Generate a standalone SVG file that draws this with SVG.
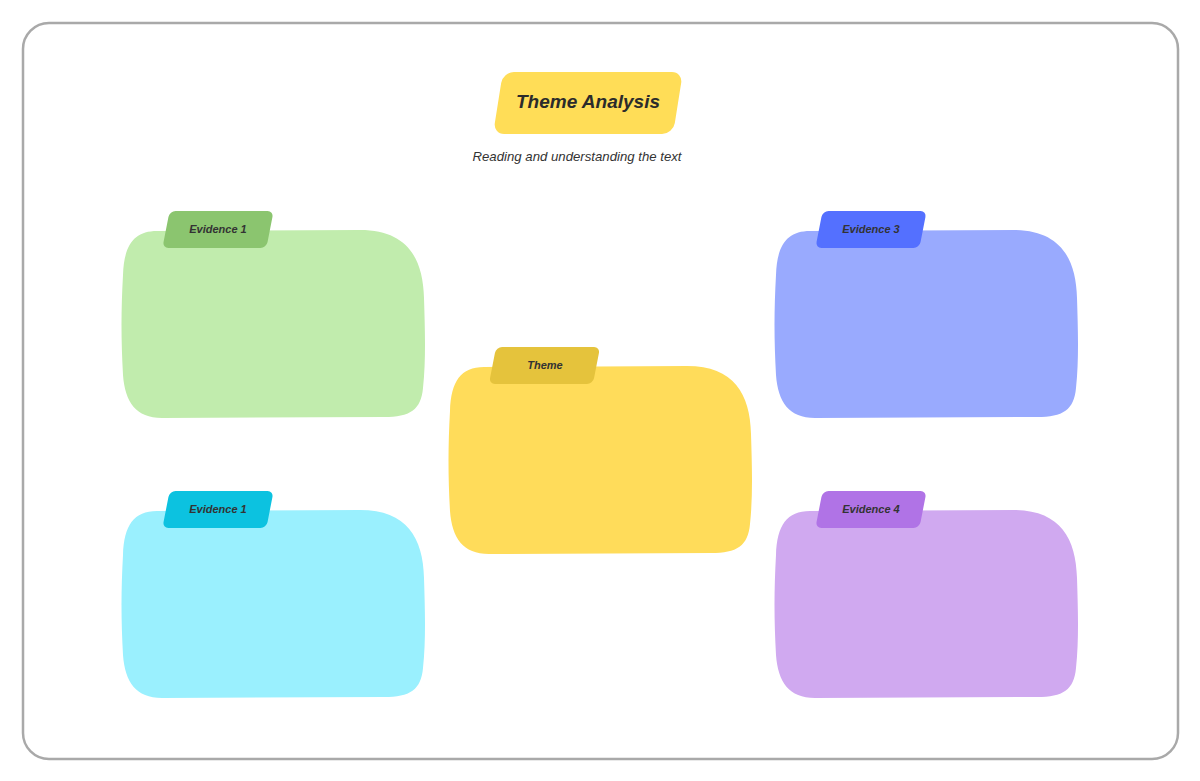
<svg xmlns="http://www.w3.org/2000/svg" width="1200" height="781" viewBox="0 0 1200 781">
<style>
.lbl{font-family:"Liberation Sans",Arial,sans-serif;font-weight:bold;font-style:italic;font-size:11px;fill:#333;text-anchor:middle;dominant-baseline:central}
.title{font-family:"Liberation Sans",Arial,sans-serif;font-weight:bold;font-style:italic;font-size:19px;fill:#2b2b2b;text-anchor:middle;dominant-baseline:central}
.sub{font-family:"Liberation Sans",Arial,sans-serif;font-style:italic;font-size:13.2px;fill:#333;text-anchor:middle;dominant-baseline:central}
</style>
<defs>
<path id="blob" d="M 35 1 L 238 0 C 285 0 301 28 302 68 C 303 100 304 130 301 158 C 299 180 288 187 262 187 L 40 188 C 14 188 3 172 1 145 C -1 110 -1 80 1 45 C 2 15 12 1 35 1 Z"/>
<rect id="tab" x="-52" y="-18.5" width="104" height="37" rx="6"/>
</defs>
<rect x="23" y="23" width="1155" height="736" rx="26" fill="#fff" stroke="#a9a9a9" stroke-width="2.5"/>
<g id="title">
<rect x="-90" y="-31" width="180" height="62" rx="11" fill="#FFDD57" transform="translate(588,103) skewX(-9)"/>
<text class="title" x="588" y="101">Theme Analysis</text>
<text class="sub" x="577" y="156">Reading and understanding the text</text>
</g>
<g id="evidence1a">
<use href="#blob" fill="#C1ECAD" transform="translate(122,230)"/>
<use href="#tab" fill="#8BC56F" transform="translate(218,229.5) skewX(-11)"/>
<text class="lbl" x="218" y="229">Evidence 1</text>
</g>
<g id="evidence1b">
<use href="#blob" fill="#9AF0FE" transform="translate(122,510)"/>
<use href="#tab" fill="#0CC2E0" transform="translate(218,509.5) skewX(-11)"/>
<text class="lbl" x="218" y="509">Evidence 1</text>
</g>
<g id="theme">
<use href="#blob" fill="#FFDC5A" transform="translate(449,366)"/>
<use href="#tab" fill="#E5C33C" transform="translate(544.5,365.5) skewX(-11)"/>
<text class="lbl" x="545" y="365">Theme</text>
</g>
<g id="evidence3">
<use href="#blob" fill="#99AAFE" transform="translate(775,230)"/>
<use href="#tab" fill="#5470FF" transform="translate(871,229.5) skewX(-11)"/>
<text class="lbl" x="871" y="229">Evidence 3</text>
</g>
<g id="evidence4">
<use href="#blob" fill="#D0A9F0" transform="translate(775,510)"/>
<use href="#tab" fill="#B073E6" transform="translate(871,509.5) skewX(-11)"/>
<text class="lbl" x="871" y="509">Evidence 4</text>
</g>
<g id="connectors"/>
</svg>
